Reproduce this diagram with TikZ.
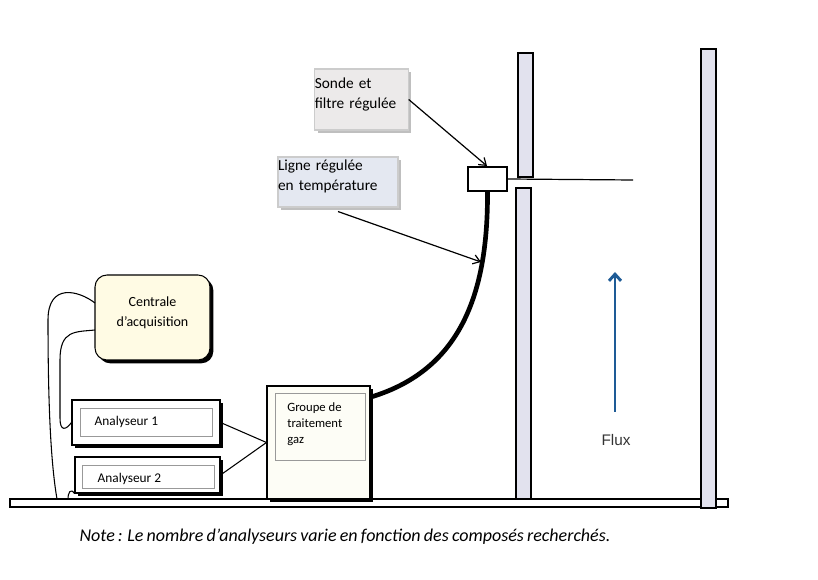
\documentclass[tikz,border=0pt]{standalone}
\usepackage{fontspec}
\setmainfont{Carlito}
\newfontfamily\fluxfont{Liberation Sans}
\usetikzlibrary{fit,shadows,arrows.meta}

\definecolor{wallgray}{HTML}{E2E2EE}
\definecolor{sondegray}{HTML}{ECEAEA}
\definecolor{lignegray}{HTML}{E4E8F1}
\definecolor{centyellow}{HTML}{FFFBE4}
\definecolor{grpwhite}{HTML}{FDFDF6}
\definecolor{fluxblue}{HTML}{1E5B96}

\begin{document}
\begin{tikzpicture}[x=0.75pt,y=-0.75pt,
	box/.style={draw,line width=0.8pt,inner sep=0pt},
	hardshadow/.style={drop shadow={shadow xshift=2.5pt,shadow yshift=-2.5pt,fill=black,opacity=1}},
	softshadow/.style={drop shadow={shadow xshift=2pt,shadow yshift=-2pt,fill=black!25,opacity=1}},
	wire/.style={line width=0.8pt},
	callout/.style={line width=0.9pt,-{Straight Barb[length=5pt,width=7pt]}}]
	\useasboundingbox (0,0) rectangle (818,580);

	% conduit
	\draw[fill=white,line width=0.8pt] (10,499) rectangle (728,507);
	\draw[fill=wallgray,line width=0.8pt] (518,53) rectangle (533,177);
	\draw[fill=wallgray,line width=0.8pt] (516,188) rectangle (531,499);
	\draw[fill=wallgray,line width=0.8pt] (701,49) rectangle (716,508);

	% sonde
	\node[box,fill=white,fit={(468,167) (507,191)}] (sonde) {};
	\draw[line width=0.9pt] (sonde.east) -- (633,180);

	% flux
	\coordinate (fluxbas) at (615,412);
	\coordinate (fluxhaut) at (615,272);
	\draw[fluxblue,line width=2.2pt,-{Straight Barb[length=5pt,width=9pt]}] (fluxbas) -- (fluxhaut);
	\node[font=\fluxfont\fontsize{11.5}{13}\selectfont,text=black!80] (flux) at (616,440) {Flux};

	% appareils
	\node[box,fill=centyellow,rounded corners=9pt,hardshadow,fit={(95,275) (210,360)},
		align=center,font=\fontsize{10.5}{15}\selectfont] (cent) {Centrale\\d'acquisition};
	\node[box,fill=white,hardshadow,fit={(72,400) (220,445)}] (an1) {};
	\node[draw=black!40,line width=0.5pt,inner sep=0pt,fit={(80,408) (212,436)}] (an1in) {};
	\node[anchor=west,font=\fontsize{10}{12}\selectfont] at (90,422) {Analyseur 1};
	\node[box,fill=white,hardshadow,fit={(75,457) (220,493)}] (an2) {};
	\node[draw=black!40,line width=0.5pt,inner sep=0pt,fit={(82,465) (214,488)}] (an2in) {};
	\node[anchor=west,font=\fontsize{10}{12}\selectfont] at (93,479) {Analyseur 2};
	\node[box,fill=grpwhite,hardshadow,fit={(267,386) (370,499)}] (grp) {};
	\node[draw=black!40,line width=0.5pt,inner sep=0pt,fit={(275,393) (365,460)}] (grpin) {};
	\node[anchor=north west,align=left,inner sep=0pt,font=\fontsize{9.5}{12}\selectfont] at (287,402) {Groupe de\\traitement\\gaz};

	% liaisons
	\draw[wire] (an1.east) -- (grp.west);
	\draw[wire] (an2.east) -- (grp.west);
	\draw[wire] (95,303) .. controls (78,290) and (48,283) .. (48,320) .. controls (48,420) and (52,470) .. (57,499);
	\draw[wire] (95,330) .. controls (75,332) and (60,330) .. (60,360) -- (60,418) .. controls (60,432) and (66,430) .. (an1.west);
	\draw[wire] (68,499) .. controls (68,492) and (71,488) .. (an2.south west);

	% ligne chauffee
	\coordinate (lignefin) at (371,397);
	\draw[line width=3.5pt] (sonde.south) .. controls (488,288) and (464,369) .. (lignefin);

	% etiquettes
	\node[box,draw=black!20,fill=sondegray,softshadow,fit={(305,69) (418,130)},
		align=left,text width=70pt,font=\fontsize{11.5}{15}\selectfont] (lsonde) {Sonde et\\filtre régulée};
	\node[box,draw=black!20,fill=lignegray,softshadow,fit={(271,157) (405,207)},
		align=left,text width=90pt,font=\fontsize{11.5}{15}\selectfont] (lligne) {Ligne régulée\\en température};
	\coordinate (pointsonde) at (487,166);
	\coordinate (pointligne) at (481,262);
	\draw[callout] (lsonde.east) -- (pointsonde);
	\draw[callout] (lligne.south) ++(0,4) -- (pointligne);

	\node[font=\itshape\fontsize{13.5}{15}\selectfont] (note) at (345,537)
		{\spaceskip=0.18em plus 0.05em\relax Note\,: Le nombre d'analyseurs varie en fonction des composés recherchés.};
\end{tikzpicture}
\end{document}
